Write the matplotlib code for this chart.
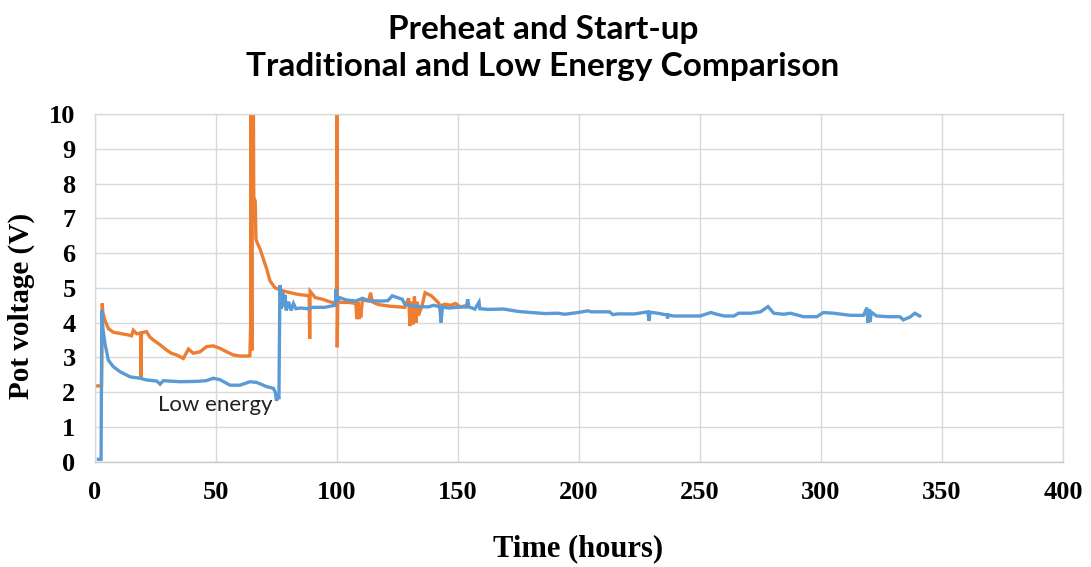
import matplotlib
matplotlib.use("Agg")
import matplotlib.pyplot as plt

# Traditional start-up (orange)
trad_t = [0, 2.7, 3.0, 3.2, 3.6, 4.1, 5.5, 7.6, 9.5, 11.7, 13.5, 15.1, 15.8, 17.2, 18.8, 19.0, 19.2,
          20, 21.3, 22.7, 24.1, 26.9, 29.6, 31.5, 33.7, 36.5, 38.6, 40.6, 43.4, 46.1, 48.9, 51.6,
          54.4, 57.1, 59.9, 63.3, 64.0, 64.3, 64.5, 64.8, 65.0, 65.4, 65.6, 66.2, 66.5, 67.0, 68.3,
          69.6, 71.0, 72.3, 74.4, 77.8, 83.2, 88.5, 88.7, 88.9, 91, 94.1, 96.9, 99.8, 100.0, 100.1,
          100.3, 102, 105, 107.8, 108.2, 108.6, 109, 109.4, 109.8, 110.5, 113, 113.9, 114.5, 117,
          122, 128, 129.6, 130.2, 130.8, 131.4, 132, 132.6, 133.2, 133.6, 135, 136.4, 139, 141.8,
          142.5, 143, 143.5, 144.5, 147, 149, 151, 154]
trad_v = [2.18, 2.18, 4.55, 4.3, 4.2, 4.07, 3.83, 3.72, 3.7, 3.67, 3.65, 3.62, 3.78, 3.68, 3.7, 2.44, 3.7,
          3.72, 3.74, 3.58, 3.5, 3.36, 3.21, 3.12, 3.07, 2.97, 3.24, 3.12, 3.16, 3.31, 3.33, 3.26,
          3.16, 3.07, 3.04, 3.04, 3.05, 3.9, 11, 3.2, 11, 11, 7.6, 7.5, 6.4, 6.3, 6.1,
          5.82, 5.53, 5.2, 5.0, 4.91, 4.82, 4.77, 3.53, 4.9, 4.72, 4.67, 4.6, 4.55, 11, 3.29,
          4.6, 4.58, 4.58, 4.55, 4.1, 4.6, 4.1, 4.5, 4.15, 4.65, 4.62, 4.86, 4.6, 4.52,
          4.47, 4.44, 4.7, 3.9, 4.6, 3.95, 4.75, 4.0, 4.6, 4.2, 4.45, 4.86, 4.77, 4.58,
          4.5, 4.15, 4.5, 4.53, 4.5, 4.55, 4.45, 4.5]

# Low energy start-up (blue)
low_t = [1.4, 2.5, 2.8, 3.3, 4.1, 5.5, 7.6, 10.3, 14.5, 18.6, 21.3, 25.5, 26.9, 28.2, 35.1, 42, 46,
         48.9, 51.6, 55.8, 59.9, 64, 66.8, 70.9, 73.7, 74.5, 75, 75.5, 76, 76.4, 77, 77.5, 78, 78.5,
         79, 80, 81, 82, 83, 85, 88, 90, 95, 99.3, 99.6, 100, 101, 104, 107.8, 110.5, 113, 118,
         121, 122.8, 127, 128, 132, 137.7, 140, 142.5, 143, 143.5, 146, 151.5, 153.5, 154, 154.5,
         157, 158.7, 159, 162.4, 168.8, 175, 180.3, 186, 191.4, 194.1, 199.6, 203.7, 205, 212.6,
         214, 216, 223, 228.4, 229, 229.3, 232.5, 236.4, 236.6, 236.8, 239, 250, 254.5, 257, 260,
         264, 266, 271, 275, 278.1, 280.5, 284.6, 287.4, 292.8, 298.3, 301, 305.2, 312, 317.6, 319,
         319.4, 319.8, 320.3, 320.8, 323, 328, 332.6, 334, 336.8, 338.8, 340.8]
low_v = [0.07, 0.07, 4.36, 3.8, 3.4, 2.92, 2.73, 2.59, 2.44, 2.4, 2.35, 2.32, 2.23, 2.33, 2.3, 2.31, 2.33,
         2.4, 2.36, 2.2, 2.2, 2.3, 2.28, 2.16, 2.11, 2.0, 1.75, 1.9, 1.8, 5.08, 4.4, 4.9, 4.45, 4.8,
         4.35, 4.6, 4.35, 4.55, 4.4, 4.42, 4.4, 4.44, 4.44, 4.5, 4.96, 4.6, 4.72, 4.65, 4.62, 4.7, 4.63, 4.62,
         4.63, 4.77, 4.67, 4.53, 4.47, 4.45, 4.5, 4.45, 4.0, 4.45, 4.42, 4.45, 4.45, 4.67, 4.45,
         4.39, 4.59, 4.4, 4.38, 4.39, 4.32, 4.29, 4.26, 4.27, 4.24, 4.29, 4.34, 4.31, 4.31,
         4.23, 4.25, 4.25, 4.31, 4.05, 4.3, 4.27, 4.22, 4.12, 4.22, 4.19, 4.19, 4.29, 4.24, 4.19,
         4.19, 4.27, 4.27, 4.31, 4.46, 4.27, 4.24, 4.27, 4.17, 4.17, 4.29, 4.27, 4.21, 4.21, 4.43,
         4.0, 4.38, 4.02, 4.3, 4.19, 4.17, 4.17, 4.08, 4.16, 4.27, 4.19]

x_ticks = [0, 50, 100, 150, 200, 250, 300, 350, 400]
y_ticks = list(range(0, 11))

serif = "Liberation Serif"
sans = "Lato"

fig = plt.figure(figsize=(10.91, 5.67), dpi=100)
ax = fig.add_axes([0.0871, 0.1857, 0.8872, 0.6133])

ax.plot(trad_t, trad_v, color="#ED7D31", lw=2.4, solid_joinstyle="miter")
ax.plot(low_t, low_v, color="#5B9BD5", lw=2.4, solid_joinstyle="miter")

ax.set_xlim(0, 400)
ax.set_ylim(0, 10)
ax.set_xticks(x_ticks)
ax.set_yticks(y_ticks)
ax.grid(True, color="#d9d9d9", lw=1)
ax.set_axisbelow(True)
for s in ax.spines.values():
    s.set_color("#d9d9d9")
    s.set_linewidth(1)
ax.spines["bottom"].set_color("#c8c8c8")
ax.tick_params(length=0, pad=14)
for lab in ax.get_xticklabels() + ax.get_yticklabels():
    lab.set_fontfamily(serif)
    lab.set_fontweight("bold")
    lab.set_fontsize(19)

ax.text(26, 1.63, "Low energy", family=sans, fontsize=16, va="center", ha="left", color="#222222")

fig.text(0.530, 0.033, "Time (hours)", family=serif, fontweight="bold", fontsize=22,
         ha="center", va="center")
fig.text(0.020, 0.46, "Pot voltage (V)", family=serif, fontweight="bold", fontsize=21,
         ha="center", va="center", rotation=90)

fig.text(0.498, 0.948, "Preheat and Start-up", family=sans, fontweight="bold", fontsize=24,
         ha="center", va="center")
fig.text(0.497, 0.882, "Traditional and Low Energy Comparison", family=sans, fontweight="bold",
         fontsize=24, ha="center", va="center")

fig.savefig("out.png", dpi=100)
